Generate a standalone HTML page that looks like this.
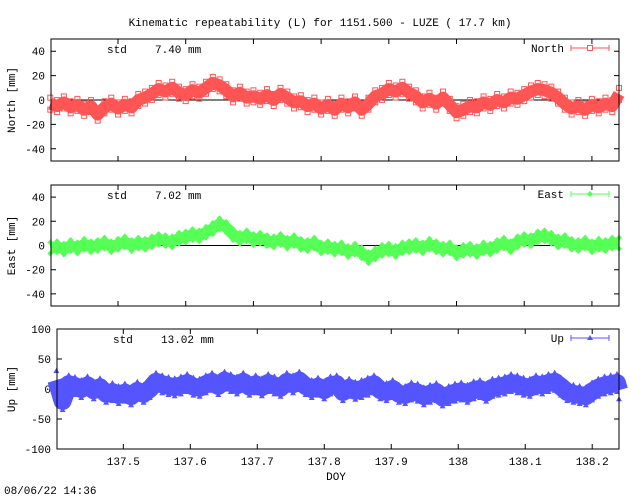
<!DOCTYPE html>
<html><head><meta charset="utf-8"><style>
html,body{margin:0;padding:0;background:#fff}
svg text{font-family:"Liberation Mono",monospace;font-size:11px;fill:#000}
</style></head><body>
<svg id="c" width="640" height="496" xmlns="http://www.w3.org/2000/svg">
<rect width="640" height="496" fill="#fff"/>
<text x="320" y="26" text-anchor="middle">Kinematic repeatability (L) for 1151.500 - LUZE  ( 17.7 km)</text>
<text x="336" y="480" text-anchor="middle">DOY</text>
<text x="4" y="494">08/06/22 14:36</text>
</svg>
<script>
const northVals=[-3,-5,-2,-6,-4,-8,-5,-12,-6,-3,-7,-4,-6,0,2,5,9,7,10,6,4,8,6,10,14,12,8,3,6,2,3,1,4,0,5,2,-2,-1,-5,-3,-7,-4,-8,-3,-6,-2,-8,-3,3,5,9,7,10,6,3,-2,1,-3,2,-4,-10,-8,-5,-6,-2,-4,0,-2,2,1,4,7,9,8,6,2,-3,-7,-5,-8,-4,-6,-3,-5,5];
const eastVals=[-2,-1,-3,0,-2,1,-1,0,2,-1,1,3,0,2,1,3,5,4,3,6,7,9,8,11,14,18,15,9,6,8,5,6,4,3,5,2,4,1,0,2,-2,-1,-3,-2,-5,-3,-6,-10,-7,-4,-3,-5,-2,-1,0,-2,1,-1,-3,-2,-6,-4,-3,-5,-2,-3,0,2,-1,3,5,4,7,8,6,3,4,1,0,2,-1,1,0,2,2];
const upVals=[15,-20,8,5,0,6,-2,3,-8,-5,-10,-6,-12,-3,-8,0,12,8,5,3,6,10,4,2,8,12,5,14,10,6,12,4,8,3,10,6,2,12,8,14,5,0,4,-2,6,8,-5,2,-3,0,4,8,-2,-5,0,-8,-10,-4,-6,-12,-8,-5,-14,-10,-6,-4,-8,-2,0,-6,2,4,6,10,8,4,2,8,6,10,12,4,-5,-8,-10,-12,-4,2,6,8,10,-2];
const xStart=137.40,xStep=0.01;
const upStep=0.0093;
const xTicks=[137.5,137.6,137.7,137.8,137.9,138,138.1,138.2];
const xTickLabels=["137.5","137.6","137.7","137.8","137.9","138","138.1","138.2"];
const smallTicks=[-40,-20,0,20,40];
const upTicks=[-100,-50,0,50,100];
const NS='http://www.w3.org/2000/svg';
const svg=document.getElementById('c');
const X0=137.401,X1=138.24;
function mk(t,a,p){const e=document.createElementNS(NS,t);for(const k in a)e.setAttribute(k,a[k]);(p||svg).appendChild(e);return e;}
function panel(cfg){
  const {l,r,t,b,ymin,ymax,ticks,vals,step,color,name,label,std,marker,band,showX}=cfg;
  const xs=v=>l+(v-X0)/(X1-X0)*(r-l);
  const ys=v=>b-(v-ymin)/(ymax-ymin)*(b-t);
  const g=mk('g',{});
  
  
  ticks.forEach(tv=>{
    const y=ys(tv);
    const tk=mk('path',{d:`M${l} ${y}h5M${r} ${y}h-5`,stroke:'#000','stroke-width':1},g);
    
    
    const tl=mk('text',{x:l-6,y:y+4,'text-anchor':'end'},g);tl.textContent=tv;
    
    
  });
  xTicks.forEach((xv,i)=>{
    const x=xs(xv);
    const tk=mk('path',{d:`M${x} ${b}v-5M${x} ${t}v5`,stroke:'#000','stroke-width':1},g);
    
    
    if(showX){const tl=mk('text',{x:x,y:b+16,'text-anchor':'middle'},g);tl.textContent=xTickLabels[i];
      
      }
  });
  const z=mk('line',{x1:l,x2:r,y1:ys(0),y2:ys(0),stroke:'#000','stroke-width':1},g);
  
  
  const pts=vals.map((v,i)=>[xs(Math.min(X1,xStart+i*step)),ys(v)]);
  const d='M'+pts.map(p=>p[0].toFixed(1)+' '+p[1].toFixed(1)).join('L');
  const s=mk('path',{d:d,fill:'none',stroke:color,'stroke-width':band,'stroke-linejoin':'round','stroke-linecap':'butt'},g);
  
  
  pts.forEach(p=>{
    [-band/2,band/2].forEach(o=>{
      let m;
      if(marker==='sq')m=mk('rect',{x:p[0]-2.5,y:p[1]+o-2.5,width:5,height:5,fill:'none',stroke:color},g);
      else if(marker==='tri')m=mk('path',{d:`M${p[0]} ${p[1]+o-3}l3 5h-6z`,fill:color},g);
      else m=mk('path',{d:`M${p[0]} ${p[1]+o-3}l3 3l-3 3l-3-3z`,fill:color},g);
      
      
    });
  });
  const fr=mk('rect',{x:l,y:t,width:r-l,height:b-t,fill:'none',stroke:'#000','stroke-width':1},g);
  
  
  const yl=mk('text',{x:0,y:0,transform:`translate(15 ${(t+b)/2}) rotate(-90)`,'text-anchor':'middle'},g);yl.textContent=label;
  
  
  const st=mk('text',{x:l+56,y:t+14},g);st.textContent='std';
  
  
  const sv=mk('text',{x:l+104,y:t+14},g);sv.textContent=std;
  
  
  const lg=mk('g',{},g);
  
  
  const lt=mk('text',{x:564,y:t+13,'text-anchor':'end'},lg);lt.textContent=name;
  mk('path',{d:`M571 ${t+9}h38M571 ${t+6}v6M609 ${t+6}v6`,stroke:color,'stroke-width':1},lg);
  if(marker==='sq')mk('rect',{x:587.5,y:t+6.5,width:5,height:5,fill:'#fff',stroke:color},lg);
  else if(marker==='tri')mk('path',{d:`M590 ${t+6}l3 5h-6z`,fill:color},lg);
  else mk('path',{d:`M590 ${t+6}l3 3l-3 3l-3-3z`,fill:color},lg);
}
panel({l:51,r:619,t:39,b:161,ymin:-50,ymax:50,ticks:smallTicks,vals:northVals,step:xStep,color:'#ff5555',name:'North',label:'North [mm]',std:'7.40 mm',marker:'sq',band:12,showX:false});
panel({l:51,r:619,t:185,b:306,ymin:-50,ymax:50,ticks:smallTicks,vals:eastVals,step:xStep,color:'#55ff55',name:'East',label:'East [mm]',std:'7.02 mm',marker:'dia',band:11,showX:false});
panel({l:57,r:619,t:329,b:449,ymin:-100,ymax:100,ticks:upTicks,vals:upVals,step:upStep,color:'#5555ff',name:'Up',label:'Up [mm]',std:'13.02 mm',marker:'tri',band:18,showX:true});
</script>
</body></html>
